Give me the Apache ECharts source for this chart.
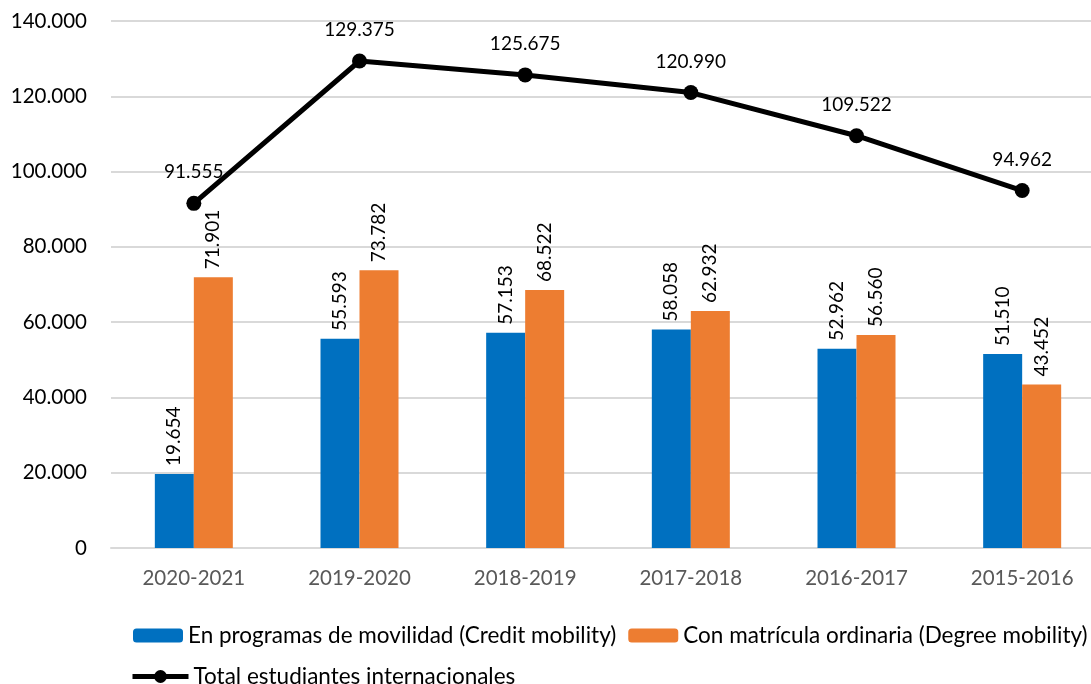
<!DOCTYPE html>
<html><head><meta charset="utf-8">
<script src="https://cdn.jsdelivr.net/npm/echarts@6/dist/echarts.min.js"></script>
<style>html,body{margin:0;padding:0;background:#fff;overflow:hidden}#c{width:1105px;height:684px}</style>
</head><body><div id="c"></div>
<script>
const categories = ['2020-2021','2019-2020','2018-2019','2017-2018','2016-2017','2015-2016'];
const credit = [19654,55593,57153,58058,52962,51510];
const degree = [71901,73782,68522,62932,56560,43452];
const total = [91555,129375,125675,120990,109522,94962];
const names = ['En programas de movilidad (Credit mobility)','Con matrícula ordinaria (Degree mobility)','Total estudiantes internacionales'];
const FONT = 'Lato, "Open Sans", sans-serif';
function fmt(v){ return String(v).replace(/\B(?=(\d{3})+(?!\d))/g,'.'); }
const chart = echarts.init(document.getElementById('c'));
const barLabel = {show:true, position:'top', rotate:90, align:'left', verticalAlign:'middle', distance:8, color:'#000', fontSize:19, fontFamily:FONT, formatter:p=>fmt(p.value)};
chart.setOption({
  animation:false,
  textStyle:{fontFamily:FONT},
  grid:{left:111, top:21, right:0, bottom:136},
  legend:[{
    data:[names[0],names[1]], left:128, top:619, itemWidth:50, itemHeight:14, itemGap:12,
    textStyle:{fontSize:22.5, color:'#000', fontFamily:FONT}
  },{
    data:[names[2]], left:125, top:660, itemWidth:56, itemHeight:16,
    lineStyle:{width:5, color:'#000'}, itemStyle:{color:'#000'},
    textStyle:{fontSize:22.5, color:'#000', fontFamily:FONT}
  }],
  xAxis:{type:'category', data:categories, axisLine:{lineStyle:{color:'#d9d9d9', width:2}}, axisTick:{show:false},
    axisLabel:{color:'#595959', fontSize:20.5, margin:20, fontFamily:FONT}},
  yAxis:{type:'value', min:0, max:140000, interval:20000,
    axisLabel:{color:'#000', fontSize:20.5, margin:24, fontFamily:FONT, formatter:v=>fmt(v)},
    splitLine:{lineStyle:{color:'#d9d9d9', width:2}}, axisLine:{show:false}, axisTick:{show:false}},
  series:[
    {name:names[0], type:'bar', data:credit, barWidth:39, barGap:'0%', itemStyle:{color:'#0070c0'}, label:barLabel},
    {name:names[1], type:'bar', data:degree, barWidth:39, barGap:'0%', itemStyle:{color:'#ed7d31'}, label:barLabel},
    {name:names[2], type:'line', data:total, symbol:'circle', symbolSize:15, lineStyle:{color:'#000', width:5}, itemStyle:{color:'#000'},
      label:{show:true, position:'top', distance:14, color:'#000', fontSize:19, fontFamily:FONT, formatter:p=>fmt(p.value)}}
  ]
});
</script></body></html>
